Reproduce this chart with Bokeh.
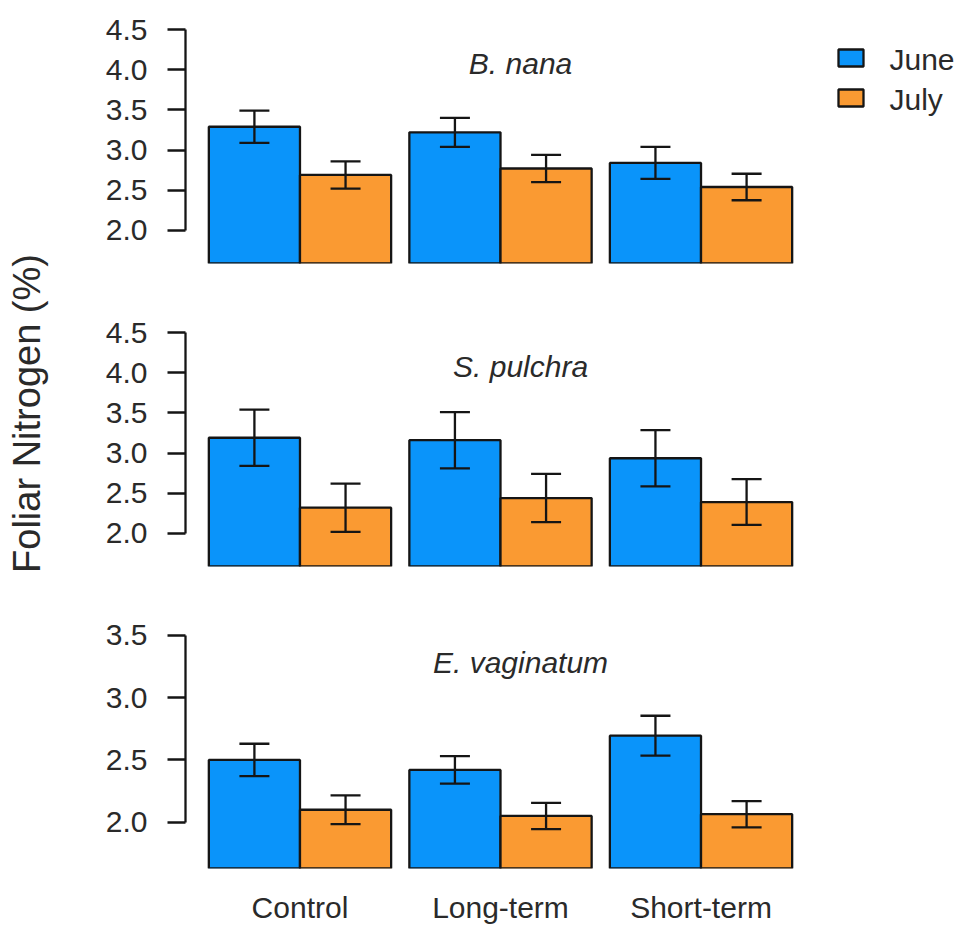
import math

from bokeh.core.properties import value
from bokeh.embed import file_html
from bokeh.layouts import column, row
from bokeh.models import (ColumnDataSource, CustomJSTickFormatter, FixedTicker,
                          PrintfTickFormatter, Range1d, TeeHead, Whisker)
from bokeh.plotting import figure
from bokeh.resources import INLINE

# ---- data -------------------------------------------------------------
treatments = ["Control", "Long-term", "Short-term"]
months = ["June", "July"]
species = ["B. nana", "S. pulchra", "E. vaginatum"]

nana_june = [3.29, 3.22, 2.84]
nana_june_se = [0.20, 0.18, 0.20]
nana_july = [2.69, 2.77, 2.54]
nana_july_se = [0.17, 0.17, 0.165]

pulchra_june = [3.19, 3.16, 2.935]
pulchra_june_se = [0.35, 0.35, 0.35]
pulchra_july = [2.32, 2.44, 2.39]
pulchra_july_se = [0.30, 0.30, 0.285]

vag_june = [2.50, 2.42, 2.695]
vag_june_se = [0.13, 0.11, 0.16]
vag_july = [2.10, 2.05, 2.064]
vag_july_se = [0.115, 0.105, 0.105]

ticks_wide = [2.0, 2.5, 3.0, 3.5, 4.0, 4.5]
ticks_narrow = [2.0, 2.5, 3.0, 3.5]
ylim_wide = (1.7, 4.5)
ylim_narrow = (1.7, 3.5)

# ---- style ------------------------------------------------------------
FONT = "Liberation Sans"
BLUE = "#0A94FA"
ORANGE = "#FA9A32"
COLORS = [BLUE, ORANGE]
INK = "#151515"
TEXT = "#2a2a2a"
LW = 2.3
TOTAL_H = 926

# bar geometry: unit-wide bars, 0.2 gap before each treatment group
BAR_W = 1.0
GAP = 0.2
lefts = [GAP + g * (2 * BAR_W + GAP) for g in range(len(treatments))]
x_june = [l + 0.5 * BAR_W for l in lefts]
x_july = [l + 1.5 * BAR_W for l in lefts]
centers = [round(l + BAR_W, 6) for l in lefts]
x_lo, x_hi = lefts[0], lefts[-1] + 2 * BAR_W
x_pad = 0.04 * (x_hi - x_lo)


def padded(lim):
    lo, hi = lim
    pad = 0.04 * (hi - lo)
    return lo - pad, hi + pad


def make_panel(name, june, june_se, july, july_se, ticks, ylim, title_y,
               top, bottom, frame_h, show_x):
    y0, y1 = padded(ylim)
    p = figure(frame_width=630, frame_height=frame_h,
               min_border_left=135, min_border_right=0,
               min_border_top=top, min_border_bottom=bottom,
               x_range=Range1d(x_lo - x_pad, x_hi + x_pad),
               y_range=Range1d(y0, y1),
               output_backend="svg", toolbar_location=None,
               background_fill_color="white", border_fill_color="white")
    p.outline_line_color = None
    p.grid.visible = False

    p.vbar(x=x_june, top=june, bottom=0, width=BAR_W,
           fill_color=BLUE, line_color=INK, line_width=LW)
    p.vbar(x=x_july, top=july, bottom=0, width=BAR_W,
           fill_color=ORANGE, line_color=INK, line_width=LW)

    means = june + july
    ses = june_se + july_se
    src = ColumnDataSource(dict(
        x=x_june + x_july,
        upper=[m + s for m, s in zip(means, ses)],
        lower=[m - s for m, s in zip(means, ses)],
    ))
    p.add_layout(Whisker(source=src, base="x", upper="upper", lower="lower",
                         line_color=INK, line_width=LW, level="overlay",
                         upper_head=TeeHead(size=30, line_color=INK, line_width=LW),
                         lower_head=TeeHead(size=30, line_color=INK, line_width=LW)))

    p.text(x=[3.62], y=[title_y], text=[name],
           text_font=value(FONT), text_font_style="italic",
           text_font_size="30px", text_color=TEXT,
           text_align="center", text_baseline="middle")

    ax = p.yaxis[0]
    ax.ticker = FixedTicker(ticks=ticks)
    ax.formatter = PrintfTickFormatter(format="%.1f")
    ax.bounds = (ticks[0], ticks[-1])
    ax.axis_line_color = INK
    ax.axis_line_width = LW
    ax.major_tick_line_color = INK
    ax.major_tick_line_width = LW
    ax.major_tick_out = 18
    ax.major_tick_in = 0
    ax.minor_tick_line_color = None
    ax.major_label_standoff = 20
    ax.major_label_text_font = FONT
    ax.major_label_text_font_size = "30px"
    ax.major_label_text_color = TEXT

    xa = p.xaxis[0]
    if show_x:
        xa.ticker = FixedTicker(ticks=centers)
        xa.formatter = CustomJSTickFormatter(args=dict(labels=treatments),
                                             code="return labels[index];")
        xa.axis_line_color = None
        xa.major_tick_line_color = None
        xa.minor_tick_line_color = None
        xa.major_tick_out = 0
        xa.major_tick_in = 0
        xa.major_label_standoff = 22
        xa.major_label_text_font = FONT
        xa.major_label_text_font_size = "30px"
        xa.major_label_text_color = TEXT
    else:
        xa.visible = False
    return p


p1 = make_panel(species[0], nana_june, nana_june_se, nana_july, nana_july_se,
                ticks_wide, ylim_wide, 4.08, 20, 30, 243, False)
p2 = make_panel(species[1], pulchra_june, pulchra_june_se, pulchra_july,
                pulchra_july_se, ticks_wide, ylim_wide, 4.08, 30, 30, 243, False)
p3 = make_panel(species[2], vag_june, vag_june_se, vag_july, vag_july_se,
                ticks_narrow, ylim_narrow, 3.28, 30, 58, 242, True)


def blank(width):
    # plain strip whose data units are pixels, measured from the top edge
    f = figure(width=width, height=TOTAL_H, min_border_left=0, min_border_right=0,
               min_border_top=0, min_border_bottom=0,
               x_axis_location=None, y_axis_location=None,
               x_range=Range1d(0, width), y_range=Range1d(TOTAL_H, 0),
               output_backend="svg", toolbar_location=None,
               background_fill_color="white", border_fill_color="white")
    f.outline_line_color = None
    f.grid.visible = False
    return f


# shared y-axis title strip on the left
ylab = blank(50)
ylab.text(x=[26], y=[413], text=["Foliar Nitrogen (%)"],
          angle=math.pi / 2, text_font=value(FONT), text_font_size="38px",
          text_color=TEXT, text_align="center", text_baseline="middle")

# legend strip on the right: key boxes and month names
leg = blank(146)
key_top = [49, 89]
key_h = 17
leg.quad(left=23, right=48, top=key_top, bottom=[t + key_h for t in key_top],
         fill_color=COLORS, line_color=INK, line_width=LW)
leg.text(x=74, y=[t + key_h / 2 + 1 for t in key_top], text=months,
         text_font=value(FONT), text_font_size="30px", text_color=TEXT,
         text_align="left", text_baseline="middle")

layout = row(ylab, column(p1, p2, p3, spacing=0), leg, spacing=0)

with open("out.html", "w") as f:
    f.write(file_html(layout, INLINE))
